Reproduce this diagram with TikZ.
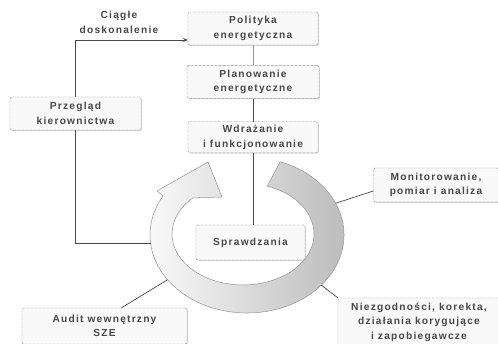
\documentclass[tikz,border=0pt]{standalone}
\usepackage{fontspec}
\setmainfont{Liberation Sans}
\newfontfamily\lblfont[LetterSpace=12]{Liberation Sans}
\usetikzlibrary{arrows.meta, positioning, calc, shadows}
\definecolor{ink}{RGB}{72,72,72}
\definecolor{edge}{RGB}{150,150,150}

\begin{document}
\begin{tikzpicture}[x=1pt, y=1pt,
    box/.style={draw=edge, dash pattern=on 3pt off 1pt, rounded corners=1.5pt, fill=gray!5, minimum width=130pt, minimum height=33pt, align=center, inner sep=2pt, font=\lblfont\bfseries\fontsize{10.2}{14.5}\selectfont, text=ink, drop shadow={shadow xshift=0.8pt, shadow yshift=-0.8pt, fill=gray!70}},
    link/.style={draw=ink, line width=0.7pt},
    arrow/.style={link, -{Stealth[length=5pt, width=4pt]}},
    node distance=20pt,
]
    \clip (0,0) rectangle (498,343);
    \fill[white] (0,0) rectangle (498,343);

    % cycle ring
    \coordinate (ring) at (247,108);
    \shadedraw[left color=gray!4, right color=gray!55, draw=edge, line width=0.5pt]
        ($(ring)+(70:97 and 78)$) arc[start angle=70, end angle=-210, x radius=97, y radius=78]
        -- (157,152) -- (208,181) -- (222,146) -- (192.8,145.1)
        arc[start angle=135, end angle=430, x radius=71, y radius=51] -- cycle;
    \coordinate (ringW) at (150.5,100);
    \coordinate (ringNE) at ($(ring)+(24:97 and 78)$);
    \coordinate (ringSE) at ($(ring)+(-40:97 and 78)$);
    \coordinate (ringSW) at ($(ring)+(-145:97 and 78)$);

    \node[box] (pol) at (253,314.5) {Polityka\\energetyczna};
    \node[box, below=of pol, minimum width=132pt] (plan) {Planowanie\\energetyczne};
    \node[box, below=23pt of plan, minimum height=31pt] (wdr) {Wdrażanie\\i funkcjonowanie};
    \node[box, minimum width=131pt] (prz) at (75.5,229.5) {Przegląd\\kierownictwa};
    \node[box, minimum width=109pt, minimum height=35pt] (spr) at (250.5,100.5) {Sprawdzania};
    \node[box, minimum width=125pt, minimum height=34pt] (mon) at (436,158) {Monitorowanie,\\pomiar i analiza};
    \node[box, minimum width=165pt, minimum height=36pt] (aud) at (104.5,17) {Audit wewnętrzny\\SZE};
    \node[box, minimum width=162pt, minimum height=48pt] (nie) at (419,21) {Niezgodności, korekta,\\działania korygujące\\i zapobiegawcze};
    \node[align=center, text=ink, font=\lblfont\bfseries\fontsize{10.2}{14.5}\selectfont] (cd) at (119,320.5) {Ciągłe\\doskonalenie};

    \draw[arrow] (prz.north) |- ([yshift=-11.5pt]pol.west);
    \draw[link, draw=edge] (pol) -- (plan);
    \draw[link] (plan) -- (wdr);
    \draw[link] (wdr.south) -- (wdr.south |- spr.north);
    \draw[link] (prz.south) |- (ringW);
    \draw[link] ([yshift=-6pt]mon.west) -- (ringNE);
    \draw[link] (nie.north west) -- (ringSE);
    \draw[link] ([xshift=17pt]aud.north) -- (ringSW);
\end{tikzpicture}
\end{document}
